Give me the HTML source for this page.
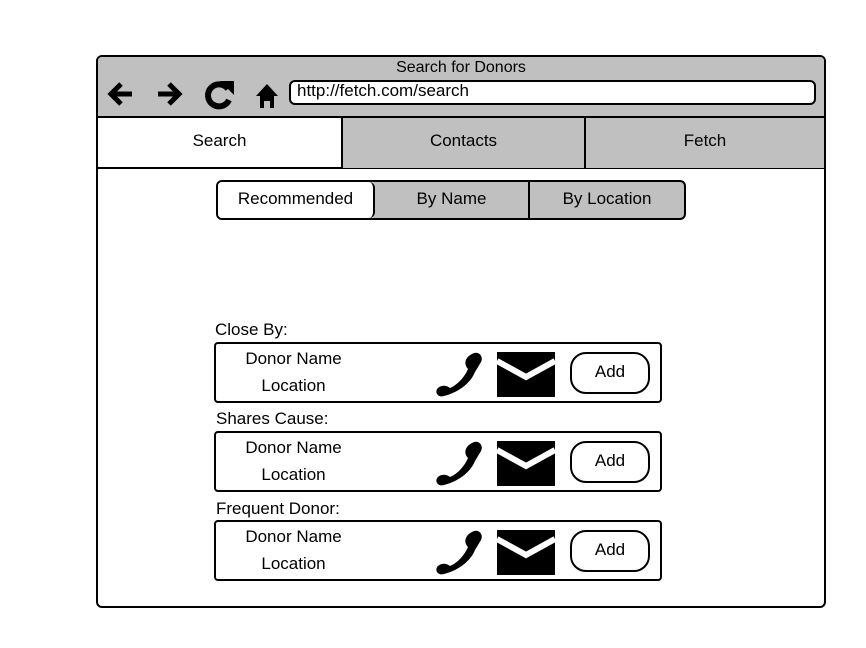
<!DOCTYPE html>
<html><head><style>
body{margin:0;width:866px;height:648px;background:#fff;position:relative;font-family:"Liberation Sans",sans-serif;font-size:17px;color:#000;overflow:hidden}
.a{position:absolute;box-sizing:border-box}
.c{display:flex;align-items:center;justify-content:center}
.card{border:2px solid #000;border-radius:4px;left:214px;width:448px;height:61px}
.nm{left:15px;width:125px;text-align:center;line-height:27px;top:1px}
.add{left:354px;top:8px;width:80px;height:42px;border:2px solid #000;border-radius:16px;padding-bottom:3px}
</style></head><body>
<div class="a" style="left:96px;top:55px;width:730px;height:553px;border:2px solid #000;border-radius:6px;overflow:hidden">
 <div class="a" style="left:0;top:0;width:726px;height:61px;background:#c0c0c0;border-bottom:2px solid #000"></div>
 <div class="a" style="left:0;top:2px;width:726px;text-align:center;font-size:16px">Search for Donors</div>
 <div class="a" style="left:191px;top:23px;width:527px;height:25px;border:2px solid #000;border-radius:6px;background:#fff;padding-left:6px;line-height:17px;font-size:17px">http://fetch.com/search</div>
 <svg class="a" style="left:6px;top:20px" width="190" height="36" viewBox="0 0 190 36">
  <path d="M28 17H8M17 7L7 17L17 27" stroke="#000" stroke-width="5" fill="none" stroke-linejoin="miter"/>
  <path d="M54 17H74M65 7L75 17L65 27" stroke="#000" stroke-width="5" fill="none"/>
  <path d="M124 12A11 11 0 1 0 125 23" stroke="#000" stroke-width="6" fill="none"/>
  <path d="M116 4L130 4L130 18Z" fill="#000"/>
  <path d="M152 19L163 7L174 19H170V31H166V24H160V31H156V19Z" fill="#000"/>
 </svg>
 <div class="a" style="left:0;top:61px;width:726px;height:51px;border-bottom:2px solid #000"></div>
 <div class="a c" style="left:0;top:61px;width:243px;height:46px;background:#fff">Search</div>
 <div class="a c" style="left:243px;top:61px;width:243px;height:50px;background:#c0c0c0;border-left:2px solid #000;padding-bottom:4px">Contacts</div>
 <div class="a c" style="left:486px;top:61px;width:240px;height:50px;background:#c0c0c0;border-left:2px solid #000;padding-bottom:4px">Fetch</div>
</div>
<div class="a" style="left:216px;top:180px;width:470px;height:40px;border:2px solid #000;border-radius:6px;background:#c0c0c0;overflow:hidden">
 <div class="a c" style="left:0;top:0;width:157px;height:36px;background:#fff;border-right:2px solid #000;border-radius:0 6px 6px 0;padding-bottom:3px">Recommended</div>
 <div class="a c" style="left:157px;top:0;width:155px;height:36px;border-right:2px solid #000;padding-bottom:3px">By Name</div>
 <div class="a c" style="left:312px;top:0;width:154px;height:36px;padding-bottom:3px">By Location</div>
</div>
<div class="a" style="left:215px;top:320px">Close By:</div>
<div class="a" style="left:216px;top:409px">Shares Cause:</div>
<div class="a" style="left:216px;top:499px">Frequent Donor:</div>
<div class="a card" style="top:342px"><div class="a nm">Donor Name<br>Location</div>
<svg class="a" style="left:218px;top:4px" width="130" height="50"><path d="M38 6C44 2 50 8 47 14L41 24C37 34 26 44 10 48C4 50 0 44 4 40C8 36 14 38 16 40C25 36 31 28 34 21C30 17 30 10 38 6Z" fill="#000"/><path d="M63 4H121V49H63Z" fill="#000"/><path d="M63 13L92 29L121 13" stroke="#fff" stroke-width="6" fill="none"/></svg>
<div class="a add c">Add</div></div>
<div class="a card" style="top:431px"><div class="a nm">Donor Name<br>Location</div>
<svg class="a" style="left:218px;top:4px" width="130" height="50"><path d="M38 6C44 2 50 8 47 14L41 24C37 34 26 44 10 48C4 50 0 44 4 40C8 36 14 38 16 40C25 36 31 28 34 21C30 17 30 10 38 6Z" fill="#000"/><path d="M63 4H121V49H63Z" fill="#000"/><path d="M63 13L92 29L121 13" stroke="#fff" stroke-width="6" fill="none"/></svg>
<div class="a add c">Add</div></div>
<div class="a card" style="top:520px"><div class="a nm">Donor Name<br>Location</div>
<svg class="a" style="left:218px;top:4px" width="130" height="50"><path d="M38 6C44 2 50 8 47 14L41 24C37 34 26 44 10 48C4 50 0 44 4 40C8 36 14 38 16 40C25 36 31 28 34 21C30 17 30 10 38 6Z" fill="#000"/><path d="M63 4H121V49H63Z" fill="#000"/><path d="M63 13L92 29L121 13" stroke="#fff" stroke-width="6" fill="none"/></svg>
<div class="a add c">Add</div></div>
</body></html>
